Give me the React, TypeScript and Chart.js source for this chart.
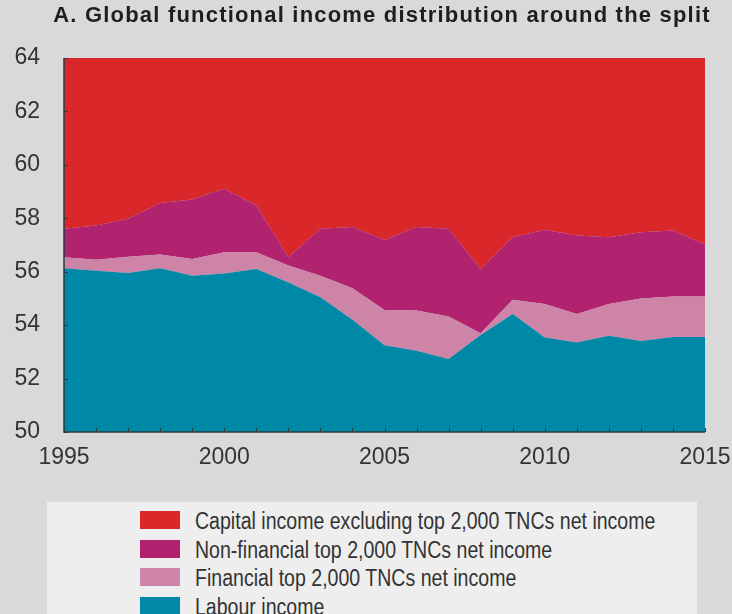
import React, { useEffect, useRef } from "react";
import { Chart, registerables } from "chart.js";

Chart.register(...registerables);

const years = [1995, 1996, 1997, 1998, 1999, 2000, 2001, 2002, 2003, 2004, 2005, 2006, 2007, 2008, 2009, 2010, 2011, 2012, 2013, 2014, 2015];
// Shares (percentage points), stacked bottom to top
const labour = [56.13, 56.04, 55.95, 56.13, 55.85, 55.93, 56.1, 55.6, 55.04, 54.2, 53.25, 53.04, 52.73, 53.63, 54.42, 53.54, 53.35, 53.6, 53.41, 53.56, 53.56];
const financial = [0.41, 0.41, 0.61, 0.51, 0.63, 0.8, 0.63, 0.63, 0.81, 1.18, 1.32, 1.51, 1.59, 0.07, 0.53, 1.25, 1.07, 1.19, 1.59, 1.51, 1.51];
const nonFinancial = [1.07, 1.28, 1.42, 1.93, 2.22, 2.38, 1.75, 0.31, 1.76, 2.29, 2.62, 3.12, 3.29, 2.4, 2.34, 2.78, 2.94, 2.5, 2.48, 2.47, 1.95];
const capital = [6.39, 6.27, 6.02, 5.43, 5.3, 4.89, 5.52, 7.46, 6.39, 6.33, 6.81, 6.33, 6.39, 7.9, 6.71, 6.43, 6.64, 6.71, 6.52, 6.46, 6.98];

const yTicks = [50, 52, 54, 56, 58, 60, 62, 64];
const xTickLabels = [1995, 2000, 2005, 2010, 2015];

const titleText = "A. Global functional income distribution around the split";
const seriesNames = [
  "Labour income",
  "Financial top 2,000 TNCs net income",
  "Non-financial top 2,000 TNCs net income",
  "Capital income excluding top 2,000 TNCs net income",
];
const seriesColors = ["#0088a7", "#cd84a7", "#b1226f", "#d9272a"];

const TICK_FONT = "'Liberation Sans', Arial, sans-serif";

const axisPlugin = {
  id: "innerAxes",
  afterDatasetsDraw(chart: any) {
    const { ctx, chartArea, scales } = chart;
    const { left, right, top, bottom } = chartArea;
    const x = scales.x;
    const y = scales.y;
    ctx.save();
    ctx.strokeStyle = "#2b3a40";
    ctx.lineWidth = 1.5;
    ctx.beginPath();
    ctx.moveTo(left, top);
    ctx.lineTo(left, bottom);
    ctx.lineTo(right, bottom);
    ctx.stroke();
    ctx.lineWidth = 1;
    ctx.beginPath();
    years.forEach((yr) => {
      const px = Math.round(x.getPixelForValue(yr)) + 0.5;
      ctx.moveTo(px, bottom);
      ctx.lineTo(px, bottom - 4);
    });
    yTicks.forEach((v) => {
      const py = Math.round(y.getPixelForValue(v)) + 0.5;
      ctx.moveTo(left, py);
      ctx.lineTo(left + 4, py);
    });
    ctx.stroke();
    ctx.restore();
  },
};

export default function App() {
  const canvasRef = useRef<HTMLCanvasElement | null>(null);

  useEffect(() => {
    const canvas = canvasRef.current;
    if (!canvas) return;
    const seriesData = [labour, financial, nonFinancial, capital];
    const chart = new Chart(canvas, {
      type: "line",
      data: {
        datasets: seriesData.map((arr, i) => ({
          label: seriesNames[i],
          data: years.map((yr, j) => ({ x: yr, y: arr[j] })),
          backgroundColor: seriesColors[i],
          borderColor: seriesColors[i],
          borderWidth: 0,
          pointRadius: 0,
          tension: 0,
          fill: i === 0 ? "start" : "-1",
        })),
      },
      options: {
        responsive: false,
        animation: false,
        devicePixelRatio: 1,
        layout: { padding: { left: 0, right: 27, top: 58, bottom: 0 } },
        plugins: {
          legend: { display: false },
          tooltip: { enabled: false },
          title: { display: false },
        },
        scales: {
          x: {
            type: "linear",
            min: 1995,
            max: 2015,
            grid: { display: false, drawTicks: false },
            border: { display: false },
            ticks: {
              stepSize: 5,
              autoSkip: false,
              maxRotation: 0,
              padding: 12,
              color: "#333",
              font: { family: TICK_FONT, size: 23 },
              callback: (v: any) => (xTickLabels.includes(Number(v)) ? String(v) : ""),
            },
            afterFit: (s: any) => {
              s.height = 48;
              s.paddingLeft = 0;
              s.paddingRight = 0;
            },
          },
          y: {
            stacked: true,
            min: 50,
            max: 64,
            grid: { display: false, drawTicks: false },
            border: { display: false },
            ticks: {
              stepSize: 2,
              padding: 24,
              color: "#333",
              font: { family: TICK_FONT, size: 23 },
              callback: (v: any) => String(v),
            },
            afterFit: (s: any) => {
              s.width = 64;
              s.paddingTop = 0;
              s.paddingBottom = 0;
            },
          },
        },
      },
      plugins: [axisPlugin],
    });
    return () => chart.destroy();
  }, []);

  const legendOrder = [3, 2, 1, 0];

  return (
    <div
      style={{
        position: "absolute",
        left: 0,
        top: 0,
        width: 732,
        height: 614,
        background: "#d9d9d9",
        overflow: "hidden",
      }}
    >
      <canvas ref={canvasRef} width={732} height={480} style={{ position: "absolute", left: 0, top: 0 }} />
      <div
        style={{
          position: "absolute",
          left: 0,
          top: 2,
          width: 764,
          textAlign: "center",
          whiteSpace: "nowrap",
          fontFamily: TICK_FONT,
          fontWeight: "bold",
          fontSize: 22,
          lineHeight: "26px",
          letterSpacing: "1.2px",
          color: "#1e1e1e",
        }}
      >
        {titleText}
      </div>
      <div
        style={{
          position: "absolute",
          left: 47,
          top: 502,
          width: 650,
          height: 130,
          background: "#eeeeee",
        }}
      >
        {legendOrder.map((idx, r) => (
          <div key={idx} style={{ position: "absolute", left: 0, top: 7 + r * 28.5, height: 28, width: 650 }}>
            <div
              style={{
                position: "absolute",
                left: 93,
                top: 2,
                width: 40,
                height: 18,
                background: seriesColors[idx],
              }}
            />
            <div
              style={{
                position: "absolute",
                left: 148,
                top: -2,
                whiteSpace: "nowrap",
                fontFamily: TICK_FONT,
                fontSize: 23,
                lineHeight: "28px",
                color: "#333",
                transform: "scaleX(0.85)",
                transformOrigin: "0 0",
              }}
            >
              {seriesNames[idx]}
            </div>
          </div>
        ))}
      </div>
    </div>
  );
}
